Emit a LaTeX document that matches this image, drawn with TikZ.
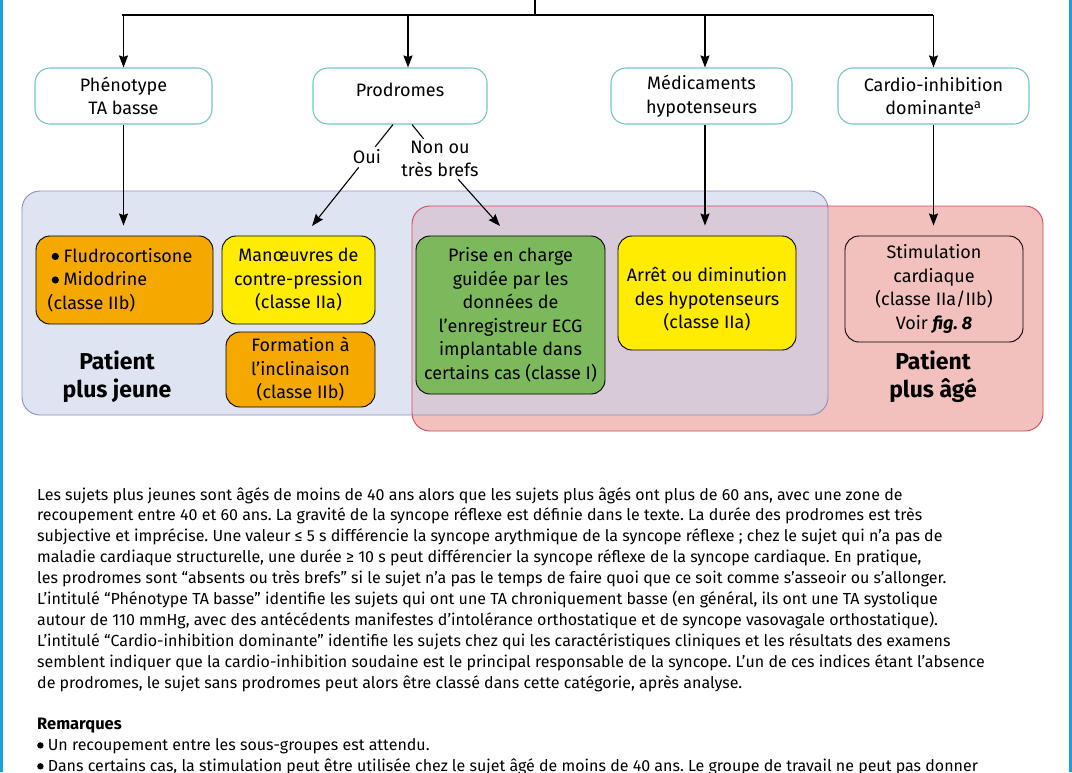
\documentclass[tikz,border=0pt]{standalone}
\usepackage{fontspec}
\setmainfont{Fira Sans}
\usetikzlibrary{arrows.meta,positioning}
\frenchspacing

\definecolor{qcyan}{HTML}{74C6C8}
\definecolor{edgeblue}{HTML}{1EA0DC}
\definecolor{jfill}{HTML}{C8D1EC}
\definecolor{jdraw}{HTML}{8A8EC4}
\definecolor{afill}{HTML}{F2C1BD}
\definecolor{adraw}{HTML}{D8475A}
\definecolor{orng}{HTML}{F5A800}
\definecolor{yell}{HTML}{FFEC00}
\definecolor{grn}{HTML}{7CB85C}

\newcommand{\bul}{\tikz[baseline=-0.32em]\fill (0,0) circle (0.2em);}

\begin{document}
\begin{tikzpicture}[x=1pt,y=-1pt,
  every node/.style={font=\fontsize{18}{23.5}\selectfont, align=center, inner sep=0pt},
  q/.style={draw=qcyan, line width=1.1pt, rounded corners=15pt, fill=white, minimum height=56pt},
  t/.style={draw=black, line width=0.9pt, rounded corners=14pt},
  e/.style={line width=1.1pt},
  a/.style={e, -{Stealth[length=12pt,width=9pt,inset=1.5pt]}},
  lbl/.style={font=\fontsize{23}{28}\selectfont\bfseries},
  txt/.style={anchor=north west, align=left, font=\fontsize{16}{20.9}\selectfont}
]

% --- page and side rules ---
\useasboundingbox (0,0) rectangle (1072,772);
\fill[white] (0,0) rectangle (1072,772);
\draw[edgeblue, line width=3pt] (1.5,0) -- (1.5,772);
\draw[edgeblue, line width=3pt] (1070.5,0) -- (1070.5,772);

% --- age zones (drawn under the boxes) ---
\fill[afill, rounded corners=18pt] (412,206) rectangle (1043,431);
\fill[jfill, fill opacity=0.58, rounded corners=18pt] (22,191) rectangle (828,415);
\draw[jdraw, line width=0.9pt, rounded corners=18pt] (22,191) rectangle (828,415);
\draw[adraw, line width=0.9pt, rounded corners=18pt] (412,206) rectangle (1043,431);

% --- criteria ---
\node[q, minimum width=177pt] (pheno) at (123.5,96) {Phénotype\\TA basse};
\node[q, minimum width=174pt] (prod) at (400,96) {\smash{Prodromes}};
\node[q, minimum width=181pt] (medic) at (701.5,96) {Médicaments\\hypotenseurs};
\node[q, minimum width=191pt] (cardio) at (933.5,96) {Cardio-inhibition\\dominante\textsuperscript{a}};

% --- treatments ---
\node[t, fill=orng, minimum width=177pt, minimum height=88pt, align=left] (fludro) at (124.5,280)
  {\hspace*{4pt}\bul\ Fludrocortisone\\\hspace*{4pt}\bul\ Midodrine\\(classe IIb)\hspace*{66pt}};
\node[t, fill=yell, minimum width=153pt, minimum height=88pt] (manoeuv) at (298.5,280)
  {Manœuvres de\\contre-pression\\(classe IIa)};
\node[t, fill=orng, minimum width=149pt, minimum height=75pt] (formation) at (300.5,369.5)
  {Formation à\\l’inclinaison\\(classe IIb)};
\node[t, fill=grn, minimum width=189pt, minimum height=158pt] (ecg) at (510.5,315)
  {Prise en charge\\guidée par les\\données de\\l’enregistreur ECG\\implantable dans\\certains cas (classe I)};
\node[t, fill=yell, minimum width=178pt, minimum height=114pt] (arret) at (707,293)
  {\rule{0pt}{27pt}Arrêt ou diminution\\des hypotenseurs\\(classe IIa)};
\node[t, fill=afill, minimum width=178pt, minimum height=106pt] (stim) at (934,289)
  {Stimulation\\cardiaque\\(classe IIa/IIb)\\Voir \textbf{\textit{fig. 8}}};

\node[lbl] (jeune) at (117,377) {Patient\\plus jeune};
\node[lbl] (age) at (933,377) {Patient\\plus âgé};

% --- branch labels ---
\node[inner sep=3pt] (oui) at (367,157) {Oui};
\node[inner sep=2pt] (non) at (440,159) {Non ou\\très brefs};
\coordinate (top) at (535,0);
\coordinate (bar) at (535,15);
\coordinate (ouitip) at (312,226);
\coordinate (nontip) at (500,226);

% --- top tree ---
\draw[e] (top) -- (bar);
\draw[e] (122,15) -- (933,15);
\draw[a] (bar -| pheno.north) -- (pheno.north);
\draw[a] (408,15) -- ([xshift=8pt]prod.north);
\draw[a] (705,15) -- ([xshift=3.5pt]medic.north);
\draw[a] (bar -| cardio.north) -- (cardio.north);

% --- to treatments ---
\draw[a] (pheno.south) -- ([yshift=10pt]pheno.south |- fludro.north);
\draw[a] ([xshift=3.5pt]medic.south) -- ([xshift=3.5pt,yshift=10pt]medic.south |- arret.north);
\draw[a] (cardio.south) -- ([yshift=10pt]cardio.south |- stim.north);
\draw[e] ([xshift=-7pt]prod.south) -- (oui);
\draw[a] (oui) -- (ouitip);
\draw[e] ([xshift=12pt]prod.south) -- (non);
\draw[a] (non) -- (nontip);

% --- legend text ---
\node[txt] (notes) at (37,487)
  {Les sujets plus jeunes sont âgés de moins de 40 ans alors que les sujets plus âgés ont plus de 60 ans, avec une zone de\\
   recoupement entre 40 et 60 ans. La gravité de la syncope réflexe est définie dans le texte. La durée des prodromes est très\\
   subjective et imprécise. Une valeur ≤ 5 s différencie la syncope arythmique de la syncope réflexe ; chez le sujet qui n’a pas de\\
   maladie cardiaque structurelle, une durée ≥ 10 s peut différencier la syncope réflexe de la syncope cardiaque. En pratique,\\
   les prodromes sont “absents ou très brefs” si le sujet n’a pas le temps de faire quoi que ce soit comme s’asseoir ou s’allonger.\\
   L’intitulé “Phénotype TA basse” identifie les sujets qui ont une TA chroniquement basse (en général, ils ont une TA systolique\\
   autour de 110 mmHg, avec des antécédents manifestes d’intolérance orthostatique et de syncope vasovagale orthostatique).\\
   L’intitulé “Cardio-inhibition dominante” identifie les sujets chez qui les caractéristiques cliniques et les résultats des examens\\
   semblent indiquer que la cardio-inhibition soudaine est le principal responsable de la syncope. L’un de ces indices étant l’absence\\
   de prodromes, le sujet sans prodromes peut alors être classé dans cette catégorie, après analyse.};
\node[txt] (remarks) at (37,718)
  {{\fontsize{16.5}{20.9}\selectfont\textbf{Remarques}}\\
   \bul\ Un recoupement entre les sous-groupes est attendu.\\
   \bul\ Dans certains cas, la stimulation peut être utilisée chez le sujet âgé de moins de 40 ans. Le groupe de travail ne peut pas donner};

\end{tikzpicture}
\end{document}
